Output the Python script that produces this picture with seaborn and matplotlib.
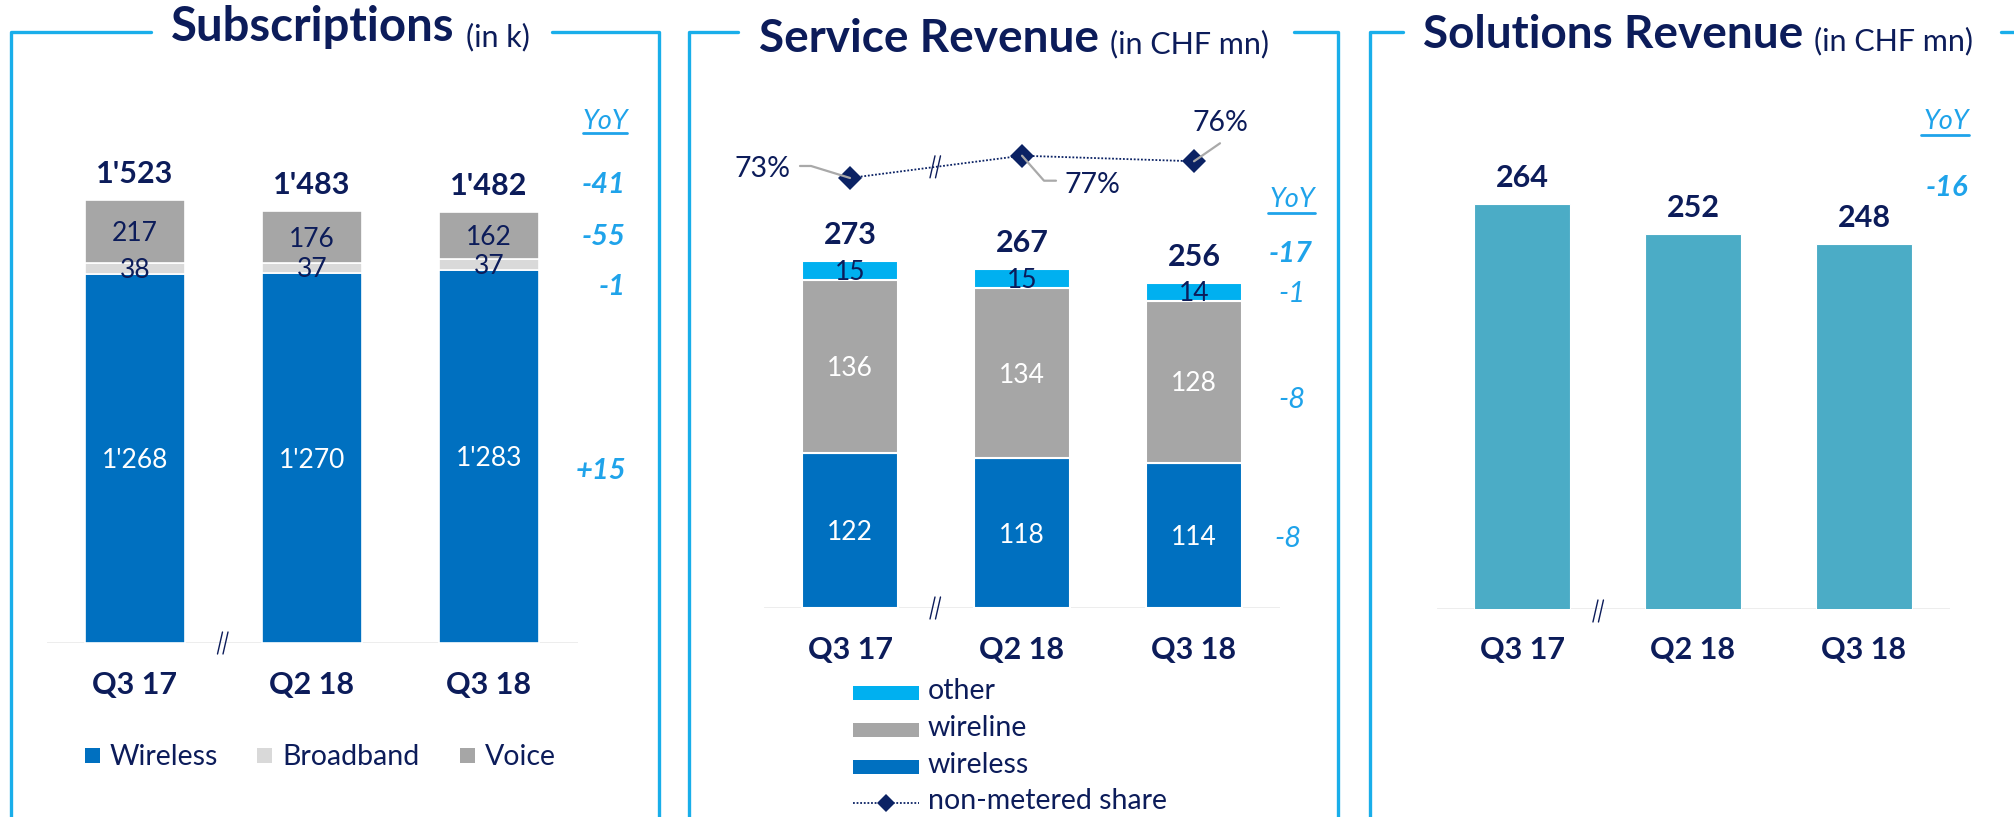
import numpy as np
import pandas as pd
import matplotlib
matplotlib.use("Agg")
import matplotlib.pyplot as plt
import seaborn as sns
from matplotlib.transforms import Affine2D
from matplotlib.lines import Line2D
from matplotlib.patches import Rectangle

# ---------------- data ----------------
quarters = ["Q3 17", "Q2 18", "Q3 18"]

subs_wireless = [1268, 1270, 1283]
subs_broadband = [38, 37, 37]
subs_voice = [217, 176, 162]
subs_total = [1523, 1483, 1482]
subs_yoy = ["-41", "-55", "-1", "+15"]
subs_legend = ["Wireless", "Broadband", "Voice"]

srv_wireless = [122, 118, 114]
srv_wireline = [136, 134, 128]
srv_other = [15, 15, 14]
srv_total = [273, 267, 256]
srv_nonmetered = [73, 77, 76]
srv_yoy = ["-17", "-1", "-8", "-8"]
srv_legend = ["other", "wireline", "wireless", "non-metered share"]

sol_revenue = [264, 252, 248]
sol_yoy = ["-16"]

# ---------------- style ----------------
sns.set_theme(style="white")
plt.rcParams["font.family"] = ["Lato", "DejaVu Sans"]

NAVY = "#0C1C5A"
DIAM = "#0B2264"
YOYC = "#1FA3EA"
FRAME = "#19AEEA"
C_WIRELESS = "#0070C0"
C_BROAD = "#D9D9D9"
C_VOICE = "#A6A6A6"
C_OTHER = "#00B0F0"
C_SOL = "#4BACC6"
C_BASE = "#EBEBEB"

S_TOTAL = 22
S_SEG = 19
S_CAT = 22
S_YOY = 21
S_PCT = 20.5
S_LEG = 20.5

W, H = 2014, 817
fig = plt.figure(figsize=(W / 100, H / 100), dpi=100)
fig.patch.set_facecolor("white")
T = Affine2D().scale(1 / W, -1 / H).translate(0, 1) + fig.transFigure
CAP = 0.7165


def fmt(v):
    return f"{v:,}".replace(",", "'")


def add_ax(left, top, width, height):
    ax = fig.add_axes([left / W, 1 - (top + height) / H, width / W, height / H])
    ax.set_axis_off()
    return ax


def ftext(x, yc, s, size, ha="center", weight="normal", style="normal", color=NAVY):
    yb = yc + CAP * size * (100 / 72) / 2
    return fig.text(x, yb, s, transform=T, ha=ha, va="baseline", fontsize=size,
                    fontweight=weight, fontstyle=style, color=color)


def fline(xs, ys, color, lw, **kw):
    fig.add_artist(Line2D(xs, ys, transform=T, color=color, lw=lw, **kw))


def to_px(ax, x, y):
    dx, dy = ax.transData.transform((x, y))
    return dx, H - dy


def break_mark(ax, x, y, dy=0):
    cx, cy = to_px(ax, x, y)
    cy += dy
    for off in (-3.5, 2.0):
        fline([cx + off - 2.5, cx + off + 2.5], [cy + 11, cy - 11], NAVY, 1.0)


def seg_label(ax, i, ymid, s, size, color):
    ax.annotate(s, xy=(i, ymid), xytext=(0, -CAP * size / 2), textcoords="offset points",
                ha="center", va="baseline", fontsize=size, color=color, annotation_clip=False)


def top_label(ax, i, ytop, s, size=S_TOTAL, gap_px=28):
    off = gap_px * 72 / 100 - CAP * size / 2
    ax.annotate(s, xy=(i, ytop), xytext=(0, off), textcoords="offset points",
                ha="center", va="baseline", fontsize=size, fontweight="bold",
                color=NAVY, annotation_clip=False)


def title(x, yb, main, msize, sub, ssize, sub_dy):
    t = fig.text(x, yb, main, transform=T, ha="left", va="baseline", fontsize=msize,
                 fontweight="bold", color=NAVY)
    r = fig.canvas.get_renderer()
    bb = t.get_window_extent(renderer=r)
    fig.text(bb.x1 + 11, H - (yb + sub_dy), sub, transform=None, ha="left", va="baseline",
             fontsize=ssize, color=NAVY)


def yoy_header(xc, yc, x0, x1, yu):
    ftext(xc, yc, "YoY", 19.5, style="italic", color=YOYC)
    fline([x0, x1], [yu, yu], YOYC, 2.0)


BAR_W = 0.56

# ---------------- frames ----------------
FLW = 2.4
fline([11, 11, 151], [817, 32, 32], FRAME, FLW)
fline([552, 659, 659], [32, 32, 817], FRAME, FLW)
fline([689, 689, 738], [817, 32, 32], FRAME, FLW)
fline([1294, 1338, 1338], [32, 32, 817], FRAME, FLW)
fline([1370, 1370, 1403], [817, 32, 32], FRAME, FLW)
fline([2001, 2014], [32, 32], FRAME, FLW)

# ---------------- titles ----------------
title(171, 41, "Subscriptions", 34, "(in k)", 22, 5)
title(759, 52, "Service Revenue", 33, "(in CHF mn)", 22, 1)
title(1423, 48, "Solutions Revenue", 33, "(in CHF mn)", 22, 2)

# ================= Panel 1: Subscriptions =================
ax1 = add_ax(46.5, 148, 531, 495)
df1 = pd.DataFrame({"quarter": quarters, "wireless": subs_wireless,
                    "broadband": subs_broadband, "voice": subs_voice})
bottom_bb = df1["wireless"].values
bottom_vo = bottom_bb + df1["broadband"].values
sns.barplot(data=df1, x="quarter", y="wireless", color=C_WIRELESS, saturation=1,
            width=BAR_W, errorbar=None, ax=ax1, edgecolor="white", linewidth=1.2)
sns.barplot(data=df1, x="quarter", y="broadband", bottom=bottom_bb, color=C_BROAD,
            saturation=1, width=BAR_W, errorbar=None, ax=ax1, edgecolor="white", linewidth=1.2)
sns.barplot(data=df1, x="quarter", y="voice", bottom=bottom_vo, color=C_VOICE,
            saturation=1, width=BAR_W, errorbar=None, ax=ax1, edgecolor="white", linewidth=1.2)
ax1.set_xlim(-0.5, 2.5)
ax1.set_ylim(0, 1701)
ax1.set_axis_off()
ax1.axhline(0, color=C_BASE, lw=2, zorder=0)
for i in range(3):
    seg_label(ax1, i, subs_wireless[i] / 2, fmt(subs_wireless[i]), S_SEG, "white")
    seg_label(ax1, i, bottom_bb[i] + subs_broadband[i] / 2, fmt(subs_broadband[i]), S_SEG, NAVY)
    seg_label(ax1, i, bottom_vo[i] + subs_voice[i] / 2, fmt(subs_voice[i]), S_SEG, NAVY)
    top_label(ax1, i, subs_total[i], fmt(subs_total[i]))
    cx, _ = to_px(ax1, i, 0)
    ftext(cx, 683, quarters[i], S_CAT, weight="bold")
break_mark(ax1, 0.5, 0)

yoy_header(605, 119, 583, 627, 133)
for s, y in zip(subs_yoy, [183, 235, 285, 469]):
    ftext(626, y, s, S_YOY, ha="right", weight="bold", style="italic", color=YOYC)

for (x0, col, lab) in zip([85, 257, 460], [C_WIRELESS, C_BROAD, C_VOICE], subs_legend):
    fig.add_artist(Rectangle((x0, 748), 15, 15, transform=T, facecolor=col, edgecolor="none"))
    fig.text(x0 + 25, 755 + CAP * S_LEG * (100 / 72) / 2, lab, transform=T, ha="left",
             va="baseline", fontsize=S_LEG, color=NAVY)

# ================= Panel 2: Service Revenue =================
ax2 = add_ax(764, 100, 516, 508)
df2 = pd.DataFrame({"quarter": quarters, "wireless": srv_wireless,
                    "wireline": srv_wireline, "other": srv_other})
b_wl = df2["wireless"].values
b_ot = b_wl + df2["wireline"].values
sns.barplot(data=df2, x="quarter", y="wireless", color=C_WIRELESS, saturation=1,
            width=BAR_W, errorbar=None, ax=ax2, edgecolor="white", linewidth=1.5)
sns.barplot(data=df2, x="quarter", y="wireline", bottom=b_wl, color=C_VOICE, saturation=1,
            width=BAR_W, errorbar=None, ax=ax2, edgecolor="white", linewidth=1.5)
sns.barplot(data=df2, x="quarter", y="other", bottom=b_ot, color=C_OTHER, saturation=1,
            width=BAR_W, errorbar=None, ax=ax2, edgecolor="white", linewidth=1.5)
ax2.set_xlim(-0.5, 2.5)
ax2.set_ylim(0, 400)
ax2.set_axis_off()
ax2.axhline(0, color=C_BASE, lw=2, zorder=0)
for i in range(3):
    seg_label(ax2, i, srv_wireless[i] / 2, fmt(srv_wireless[i]), S_SEG, "white")
    seg_label(ax2, i, b_wl[i] + srv_wireline[i] / 2, fmt(srv_wireline[i]), S_SEG, "white")
    seg_label(ax2, i, b_ot[i] + srv_other[i] / 2, fmt(srv_other[i]), S_SEG, NAVY)
    top_label(ax2, i, srv_total[i], fmt(srv_total[i]))
    cx, _ = to_px(ax2, i, 0)
    ftext(cx, 648, quarters[i], S_CAT, weight="bold")
break_mark(ax2, 0.5, 0)

ax2b = ax2.twinx()
sns.lineplot(x=np.arange(3), y=srv_nonmetered, ax=ax2b, color=DIAM, lw=1.3,
             linestyle=(0, (1, 1)), marker="D", markersize=12, markeredgewidth=0,
             markerfacecolor=DIAM)
ax2b.set_xlim(-0.5, 2.5)
ax2b.set_ylim(-4.2, 87.0)
ax2b.set_axis_off()
break_mark(ax2b, 0.5, (srv_nonmetered[0] + srv_nonmetered[1]) / 2)

# pct labels with leader lines (offsets relative to diamond, in px)
GREY = "#A9A9A9"
leaders = [
    dict(pts=[(-50, -12), (-39, -12), (0, 0)], tx=-60, ty=-11, ha="right"),
    dict(pts=[(0, 0), (22, 25), (34, 25)], tx=43, ty=27, ha="left"),
    dict(pts=[(0, 0), (26, -18)], tx=26, ty=-40, ha="center"),
]
for i, L in enumerate(leaders):
    dx, dy = to_px(ax2b, i, srv_nonmetered[i])
    xs = [dx + p[0] for p in L["pts"]]
    ys = [dy + p[1] for p in L["pts"]]
    fline(xs, ys, GREY, 1.6, zorder=5)
    ftext(dx + L["tx"], dy + L["ty"], f"{srv_nonmetered[i]}%", S_PCT, ha=L["ha"])

yoy_header(1292, 197, 1268, 1315, 213)
for s, y, x, wt in zip(srv_yoy, [252, 292, 398, 537], [1313, 1305, 1306, 1302],
                       ["bold", "normal", "normal", "normal"]):
    ftext(x, y, s, S_YOY, ha="right", weight=wt, style="italic", color=YOYC)

for (yc, col, lab) in zip([693, 730, 767], [C_OTHER, C_VOICE, C_WIRELESS], srv_legend[:3]):
    fig.add_artist(Rectangle((853, yc - 7), 66, 14, transform=T, facecolor=col, edgecolor="none"))
    fig.text(928, yc + 6, lab, transform=T, ha="left", va="baseline", fontsize=S_LEG, color=NAVY)
fig.add_artist(Line2D([853, 919], [803, 803], transform=T, color=DIAM, lw=1.3,
                      linestyle=(0, (1, 1))))
fig.add_artist(Line2D([886], [803], transform=T, color=DIAM, marker="D", markersize=9,
                      markeredgewidth=0))
fig.text(928, 803 + 6, srv_legend[3], transform=T, ha="left", va="baseline", fontsize=S_LEG,
         color=NAVY)

# ================= Panel 3: Solutions Revenue =================
ax3 = add_ax(1436.5, 100, 513, 509)
df3 = pd.DataFrame({"quarter": quarters, "revenue": sol_revenue})
sns.barplot(data=df3, x="quarter", y="revenue", color=C_SOL, saturation=1, width=BAR_W,
            errorbar=None, ax=ax3, edgecolor="white", linewidth=0.8)
ax3.set_xlim(-0.5, 2.5)
ax3.set_ylim(102, 102 + 509 / 2.5)
ax3.set_axis_off()
ax3.axhline(102, color=C_BASE, lw=2, zorder=0)
for i in range(3):
    top_label(ax3, i, sol_revenue[i], fmt(sol_revenue[i]))
    cx, _ = to_px(ax3, i, 102)
    ftext(cx, 648, quarters[i], S_CAT, weight="bold")
break_mark(ax3, 0.45, 102, dy=2)

yoy_header(1946, 119, 1921, 1969, 135)
ftext(1968, 186, sol_yoy[0], S_YOY, ha="right", weight="bold", style="italic", color=YOYC)

fig.savefig("out.png", dpi=100, facecolor="white")
